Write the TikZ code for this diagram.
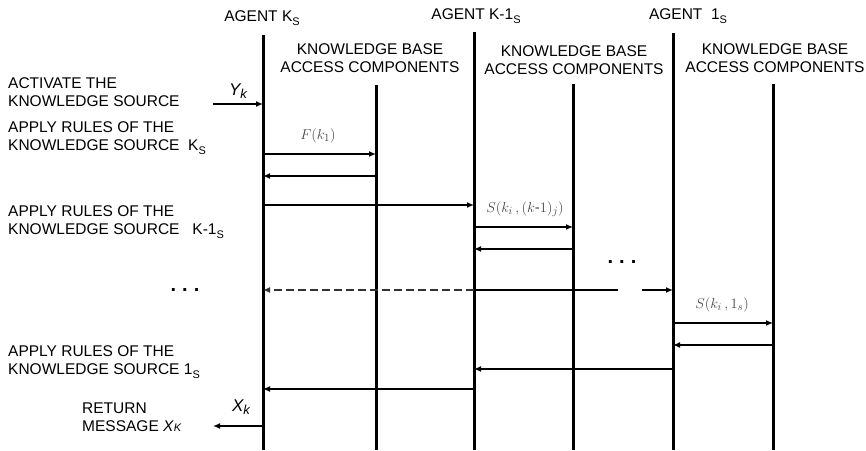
\documentclass[tikz,border=0pt]{standalone}
\usepackage{fontspec}
\setmainfont{Liberation Sans}
\usepackage{amsmath}
\usetikzlibrary{arrows.meta}
\newcommand{\lowsub}[1]{\raisebox{-0.45ex}{\fontsize{11}{11}\selectfont #1}}
\newcommand{\dotrow}{{\fontsize{20}{20}\selectfont\bfseries .\hspace{6pt}.\hspace{6pt}.}}

\begin{document}
\begin{tikzpicture}
        [x=1pt, y=-1pt, every node/.style={inner sep=0, font=\fontsize{15.5}{18}\selectfont},
        lifeline/.style={line width=3pt, black},
        msg/.style={line width=2.2pt, black, -{Latex[length=7pt,width=6pt]}},
        msglabel/.style={text=black!72, font=\fontsize{15}{15}\selectfont},
        lefttext/.style={anchor=west, align=left}]

        \useasboundingbox (0,0) rectangle (866,450);

        % headers
        \node (hA1) at (262,18) {AGENT K\lowsub{S}};
        \node (hA2) at (476,16) {AGENT K-1\lowsub{S}};
        \node (hA3) at (688,16) {AGENT\ \ 1\lowsub{S}};
        \node[align=center] (hB1) at (370,58) {KNOWLEDGE BASE\\ACCESS COMPONENTS};
        \node[align=center] (hB2) at (574,60) {KNOWLEDGE BASE\\ACCESS COMPONENTS};
        \node[align=center] (hB3) at (775,58) {KNOWLEDGE BASE\\ACCESS COMPONENTS};

        % lifelines
        \coordinate (a1) at (263,35);  \coordinate (a1e) at (263,450);
        \coordinate (b1) at (376,85);  \coordinate (b1e) at (376,450);
        \coordinate (a2) at (474,32);  \coordinate (a2e) at (474,450);
        \coordinate (b2) at (573,84);  \coordinate (b2e) at (573,450);
        \coordinate (a3) at (673,33);  \coordinate (a3e) at (673,450);
        \coordinate (b3) at (773,84);  \coordinate (b3e) at (773,450);

        \draw[lifeline] (a1) -- (a1e);
        \draw[lifeline] (b1) -- (b1e);
        \draw[lifeline] (a2) -- (a2e);
        \draw[lifeline] (b2) -- (b2e);
        \draw[lifeline] (a3) -- (a3e);
        \draw[lifeline] (b3) -- (b3e);

        % left column
        \node[lefttext] (t1) at (8,92) {ACTIVATE THE\\KNOWLEDGE SOURCE};
        \node[lefttext] (t2) at (8,138) {APPLY RULES OF THE\\KNOWLEDGE SOURCE\ \ K\lowsub{S}};
        \node[lefttext] (t3) at (8,222) {APPLY RULES OF THE\\KNOWLEDGE SOURCE\ \ \ K-1\lowsub{S}};
        \node (dots1) at (185,290) {\dotrow};
        \node[lefttext] (t4) at (8,362) {APPLY RULES OF THE\\KNOWLEDGE SOURCE 1\lowsub{S}};
        \node[lefttext] (t5) at (82,417) {RETURN\\MESSAGE \textit{X}{\itshape\fontsize{11}{11}\selectfont K}};

        % message end points
        \coordinate (m1s) at (213,104);  \coordinate (m1e) at (263,104);
        \coordinate (m2s) at (263,154);  \coordinate (m2e) at (376,154);
        \coordinate (m3s) at (376,176);  \coordinate (m3e) at (263,176);
        \coordinate (m4s) at (263,205);  \coordinate (m4e) at (474,205);
        \coordinate (m5s) at (474,227);  \coordinate (m5e) at (573,227);
        \coordinate (m6s) at (573,249);  \coordinate (m6e) at (474,249);
        \coordinate (m7s) at (474,290);  \coordinate (m7e) at (263,290);
        \coordinate (m7r) at (618,290);
        \coordinate (m8s) at (642,290);  \coordinate (m8e) at (673,290);
        \coordinate (m9s) at (673,323);  \coordinate (m9e) at (773,323);
        \coordinate (m10s) at (773,345); \coordinate (m10e) at (673,345);
        \coordinate (m11s) at (673,369); \coordinate (m11e) at (474,369);
        \coordinate (m12s) at (474,389); \coordinate (m12e) at (263,389);
        \coordinate (m13s) at (263,426); \coordinate (m13e) at (213,426);

        \draw[msg] (m1s) -- (m1e);
        \draw[msg] (m2s) -- (m2e);
        \draw[msg] (m3s) -- (m3e);
        \draw[msg] (m4s) -- (m4e);
        \draw[msg] (m5s) -- (m5e);
        \draw[msg] (m6s) -- (m6e);
        \draw[msg, black!80, dash pattern=on 8pt off 4pt] (m7s) -- (m7e);
        \draw[line width=2.2pt] (m7s) -- (m7r);
        \draw[msg] (m8s) -- (m8e);
        \draw[msg] (m9s) -- (m9e);
        \draw[msg] (m10s) -- (m10e);
        \draw[msg] (m11s) -- (m11e);
        \draw[msg] (m12s) -- (m12e);
        \draw[msg] (m13s) -- (m13e);

        % message labels
        \node (yk) at (238,91) {\fontsize{17}{17}\selectfont\itshape Y\raisebox{-0.3ex}{\fontsize{13}{13}\selectfont k}};
        \node (xk) at (241,407) {\fontsize{17}{17}\selectfont\itshape X\raisebox{-0.3ex}{\fontsize{13}{13}\selectfont k}};
        \node[msglabel] (lF) at (318,136) {$F(k_1)$};
        \node[msglabel] (lS1) at (525,209) {$S(k_i\,,(k\text{-}1)_j)$};
        \node (dots2) at (622,262) {\dotrow};
        \node[msglabel] (lS2) at (722,305) {$S(k_i\,,1_s)$};
\end{tikzpicture}
\end{document}
